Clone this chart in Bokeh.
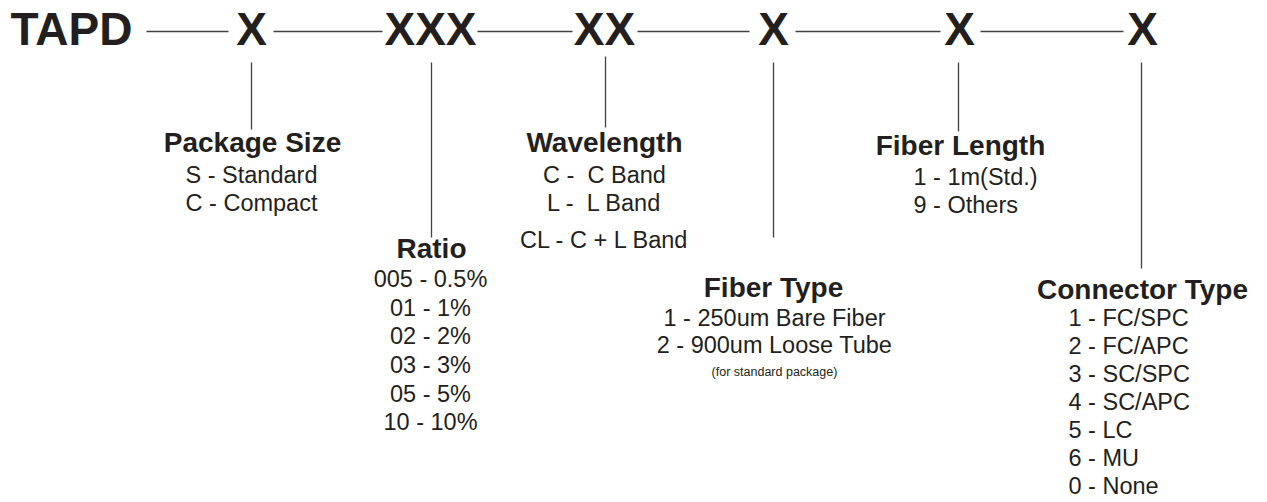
from bokeh.plotting import figure
from bokeh.models import Range1d
from bokeh.core.properties import value
from bokeh.embed import file_html
from bokeh.resources import INLINE

# ---- content (text data) ----
code_parts = ["TAPD", "X", "XXX", "XX", "X", "X", "X"]
field_titles = ["Package Size", "Ratio", "Wavelength", "Fiber Type", "Fiber Length", "Connector Type"]
package_size = ["S - Standard", "C - Compact"]
ratio = ["005 - 0.5%", "01 - 1%", "02 - 2%", "03 - 3%", "05 - 5%", "10 - 10%"]
wavelength = ["C - \u00a0C Band", "L - \u00a0L Band", "CL - C + L Band"]
fiber_type = ["1 - 250um Bare Fiber", "2 - 900um Loose Tube"]
fiber_type_note = ["(for standard package)"]
fiber_length = ["1 - 1m(Std.)", "9 - Others"]
connector_type = ["1 - FC/SPC", "2 - FC/APC", "3 - SC/SPC", "4 - SC/APC", "5 - LC", "6 - MU", "0 - None"]

# ---- layout (page pixel coordinates) ----
W, H = 1267, 502
FONT = "'Liberation Sans', Arial, sans-serif"
INK = "#231f20"
LINE = "#414042"
BASE_FIX = 0.4  # renderer draws alphabetic baseline ~0.4em low; compensate

HEAD_PX, TITLE_PX, ITEM_PX, NOTE_PX = 46, 28, 23.5, 12.5

header_x = [71, 251, 430, 604, 773, 959, 1142]
header_base = 47
rule_y = 31
rule_x0 = [146, 273, 477, 637, 795, 980]
rule_x1 = [228, 382, 572, 749, 940, 1123]

stem_x = [251, 431, 605, 773, 958, 1141]
stem_y0 = [62, 62, 56, 62, 62, 62]
stem_y1 = [129, 237, 127, 237, 131, 268]

title_x = [252, 431, 604, 773, 960, 1142]
title_base = [153, 259, 153, 298, 156, 300]


def fix(baselines, px):
    return [b - BASE_FIX * px for b in baselines]


p = figure(width=W, height=H, output_backend="svg", toolbar_location=None,
           x_range=Range1d(0, W), y_range=Range1d(H, 0),
           min_border=0, outline_line_color=None)
p.axis.visible = False
p.grid.visible = False
p.background_fill_color = "white"
p.border_fill_color = "white"

# header code
p.text(x=header_x, y=fix([header_base] * len(code_parts), HEAD_PX), text=code_parts,
       text_font=value(FONT), text_font_style="bold", text_font_size=value(f"{HEAD_PX}px"),
       text_align="center", text_baseline="alphabetic", text_color=INK)

# connecting rules
p.segment(x0=rule_x0, y0=[rule_y] * len(rule_x0), x1=rule_x1, y1=[rule_y] * len(rule_x1),
          line_color=LINE, line_width=1.5)

# stems
p.segment(x0=stem_x, y0=stem_y0, x1=stem_x, y1=stem_y1, line_color=LINE, line_width=1.3)

# field titles
p.text(x=title_x, y=fix(title_base, TITLE_PX), text=field_titles,
       text_font=value(FONT), text_font_style="bold", text_font_size=value(f"{TITLE_PX}px"),
       text_align="center", text_baseline="alphabetic", text_color=INK)


def items(labels, x, baselines, align="center", px=ITEM_PX):
    p.text(x=[x] * len(labels), y=fix(baselines, px), text=labels,
           text_font=value(FONT), text_font_size=value(f"{px}px"),
           text_align=align, text_baseline="alphabetic", text_color=INK)


items(package_size, 251, [183.5, 211.5])
items(ratio, 430, [288, 316.6, 345.2, 373.8, 402.4, 431])
items(wavelength, 604, [183.5, 211.5, 248.5])
items(fiber_type, 774, [326.5, 353.5])
items(fiber_type_note, 774, [376], px=NOTE_PX)
items(fiber_length, 913, [186, 214], align="left")
items(connector_type, 1068, [327, 355, 383, 411, 439, 467, 495], align="left")

open("out.html", "w").write(file_html(p, INLINE))
